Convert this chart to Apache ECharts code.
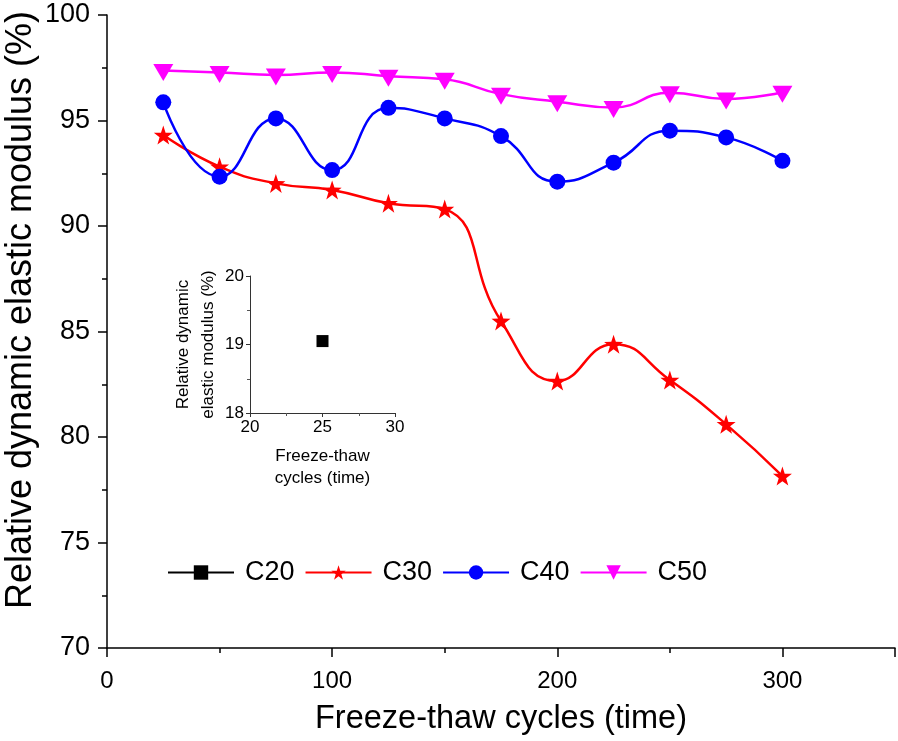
<!DOCTYPE html>
<html>
<head>
<meta charset="utf-8">
<script src="https://cdn.jsdelivr.net/npm/echarts@6/dist/echarts.min.js"></script>
<style>
html,body{margin:0;padding:0;background:#fff;}
#chart{width:898px;height:741px;}
</style>
</head>
<body>
<div id="chart"></div>
<script>
// ---- data ----
var cycles = [25, 50, 75, 100, 125, 150, 175, 200, 225, 250, 275, 300];
var c30 = [94.31, 92.81, 92.02, 91.71, 91.08, 90.8, 85.5, 82.65, 84.4, 82.7, 80.6, 78.15];
var c40 = [95.86, 92.34, 95.1, 92.65, 95.6, 95.1, 94.26, 92.1, 93.0, 94.52, 94.2, 93.09];
var c50 = [97.37, 97.28, 97.16, 97.28, 97.1, 96.95, 96.25, 95.89, 95.62, 96.32, 96.02, 96.34];
var c20x = [25];
var c20 = [19.05];
var seriesNames = ['C20', 'C30', 'C40', 'C50'];
var xTickLabels = ['0', '100', '200', '300'];
var yTickLabels = ['70', '75', '80', '85', '90', '95', '100'];

function pairs(xs, ys) { return xs.map(function (x, i) { return [x, ys[i]]; }); }

var FONT = 'Liberation Sans, Arial, sans-serif';
var starPath = 'path://M50,0 L61.8,35.1 L98.9,35.5 L69.1,57.6 L80.2,93 L50,71.5 L19.8,93 L30.9,57.6 L1.1,35.5 L38.2,35.1 Z';
var triDown = 'path://M0,0 L20,0 L10,17 Z';

var chart = echarts.init(document.getElementById('chart'), null, {renderer: 'canvas'});

var axisLine = {show: true, lineStyle: {color: '#000', width: 1.5}};

var option = {
  animation: false,
  backgroundColor: '#fff',
  grid: [
    {left: 107, top: 15, right: 1, bottom: 93, containLabel: false},
    {left: 250, top: 276, width: 145, height: 137, containLabel: false}
  ],
  legend: {
    data: seriesNames,
    left: 162, top: 554,
    itemWidth: 66, itemHeight: 18, itemGap: 10,
    textStyle: {fontFamily: FONT, fontSize: 27, color: '#000', padding: [0, 0, 0, 6]}
  },
  xAxis: [
    {
      type: 'value', gridIndex: 0, min: 0, max: 350, interval: 50, position: 'bottom',
      axisLine: axisLine,
      axisTick: {show: true, length: 5, lineStyle: {color: '#000', width: 1.5}},
      splitLine: {show: false},
      axisLabel: {
        margin: 21, fontFamily: FONT, fontSize: 24, color: '#000',
        formatter: function (v) { var s = String(v); return xTickLabels.indexOf(s) >= 0 ? s : ''; }
      },
      name: 'Freeze-thaw cycles (time)', nameLocation: 'middle', nameGap: 55,
      nameTextStyle: {fontFamily: FONT, fontSize: 32.5, color: '#000'}
    },
    {
      type: 'value', gridIndex: 0, min: 0, max: 350, interval: 100, position: 'bottom', offset: 0,
      axisLine: {show: false},
      axisTick: {show: true, length: 9, lineStyle: {color: '#000', width: 1.5}},
      splitLine: {show: false}, axisLabel: {show: false}
    },
    {
      type: 'value', gridIndex: 1, min: 20, max: 30, interval: 5,
      axisLine: {show: true, lineStyle: {color: '#333', width: 1}},
      axisTick: {show: true, length: 4, lineStyle: {color: '#333', width: 1}},
      minorTick: {show: true, splitNumber: 2, length: 3, lineStyle: {color: '#555'}},
      splitLine: {show: false},
      axisLabel: {margin: 6, fontFamily: FONT, fontSize: 17, color: '#000', showMaxLabel: true},
      name: 'Freeze-thaw\ncycles (time)', nameLocation: 'middle', nameGap: 32,
      nameTextStyle: {fontFamily: FONT, fontSize: 17, color: '#000', lineHeight: 22}
    }
  ],
  yAxis: [
    {
      type: 'value', gridIndex: 0, min: 70, max: 100, interval: 2.5, position: 'left',
      axisLine: axisLine,
      axisTick: {show: true, length: 5, lineStyle: {color: '#000', width: 1.5}},
      splitLine: {show: false},
      axisLabel: {
        margin: 17, fontFamily: FONT, fontSize: 27, color: '#000',
        formatter: function (v) { var s = String(v); return yTickLabels.indexOf(s) >= 0 ? s : ''; }
      }
    },
    {
      type: 'value', gridIndex: 0, min: 70, max: 100, interval: 5, position: 'left', offset: 0,
      axisLine: {show: false},
      axisTick: {show: true, length: 9, lineStyle: {color: '#000', width: 1.5}},
      splitLine: {show: false}, axisLabel: {show: false}
    },
    {
      type: 'value', gridIndex: 1, min: 18, max: 20, interval: 1,
      axisLine: {show: true, lineStyle: {color: '#333', width: 1}},
      axisTick: {show: true, length: 4, lineStyle: {color: '#333', width: 1}},
      minorTick: {show: true, splitNumber: 2, length: 3, lineStyle: {color: '#555'}},
      splitLine: {show: false},
      axisLabel: {margin: 6, fontFamily: FONT, fontSize: 17, color: '#000'},
      name: 'Relative dynamic\nelastic modulus (%)', nameLocation: 'middle', nameGap: 28,
      nameTextStyle: {fontFamily: FONT, fontSize: 17, color: '#000', lineHeight: 25}
    }
  ],
  graphic: [
    {
      type: 'text', x: 21, y: 310, rotation: Math.PI / 2,
      style: {text: 'Relative dynamic elastic modulus (%)', font: '36px ' + FONT, fill: '#000', align: 'center', verticalAlign: 'middle'}
    }
  ],
  series: [
    {
      name: 'C20', type: 'line', xAxisIndex: 2, yAxisIndex: 2,
      data: pairs(c20x, c20), symbol: 'rect', symbolSize: 12,
      itemStyle: {color: '#000'}, lineStyle: {color: '#000', width: 2.5}
    },
    {
      name: 'C30', type: 'line', xAxisIndex: 0, yAxisIndex: 0, smooth: 0.5,
      data: pairs(cycles, c30), symbol: starPath, symbolSize: 19,
      itemStyle: {color: '#ff0000'}, lineStyle: {color: '#ff0000', width: 2.5}
    },
    {
      name: 'C40', type: 'line', xAxisIndex: 0, yAxisIndex: 0, smooth: 0.5,
      data: pairs(cycles, c40), symbol: 'circle', symbolSize: 16,
      itemStyle: {color: '#0000ff'}, lineStyle: {color: '#0000ff', width: 2.5}
    },
    {
      name: 'C50', type: 'line', xAxisIndex: 0, yAxisIndex: 0, smooth: 0.5,
      data: pairs(cycles, c50), symbol: triDown, symbolSize: [20, 17], symbolOffset: [0, 2],
      itemStyle: {color: '#ff00ff'}, lineStyle: {color: '#ff00ff', width: 2.5}
    }
  ]
};
chart.setOption(option);
</script>
</body>
</html>
